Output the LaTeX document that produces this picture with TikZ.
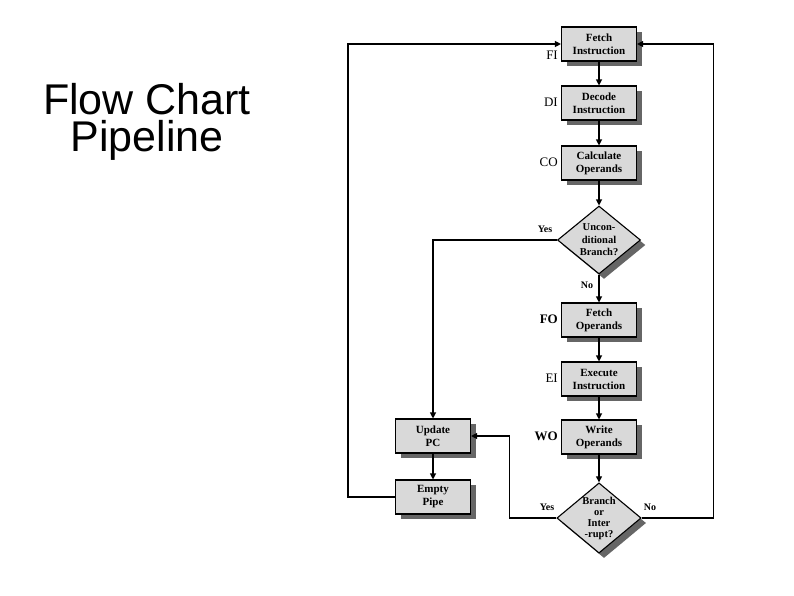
\documentclass[tikz,border=0pt]{standalone}
\usepackage{fontspec}
\setmainfont{Liberation Serif}
\newfontfamily\titlefont{Liberation Sans}
\usetikzlibrary{shapes.geometric,shadows,arrows.meta}

\begin{document}
\begin{tikzpicture}[x=1pt, y=-1pt,
    box/.style={draw, line width=1.1pt, fill=black!15, minimum width=75pt, minimum height=34pt,
        inner sep=1pt, align=center, font=\fontsize{11}{13}\selectfont\bfseries,
        drop shadow={shadow xshift=5pt, shadow yshift=-5pt, fill=black!60, opacity=1}},
    dec/.style={draw, line width=1.1pt, fill=black!15, diamond, aspect=1.2, inner sep=0pt,
        minimum width=83pt, minimum height=68pt, align=center,
        drop shadow={shadow xshift=5pt, shadow yshift=-5pt, fill=black!60, opacity=1}},
    lbl/.style={anchor=east, inner sep=0pt, font=\fontsize{13}{13}\selectfont},
    yn/.style={inner sep=0pt, font=\fontsize{10}{10}\selectfont\bfseries},
    ttl/.style={anchor=base, inner sep=0pt, font=\titlefont\fontsize{43}{43}\selectfont},
    line/.style={line width=1.1pt, -{Triangle[length=6pt, width=6pt]}}]
    \useasboundingbox (0, 0) rectangle (794, 595);

    \node[ttl, text depth=0pt, text height=31pt] (title1) at (147, 114) {Flow Chart};
    \node[ttl, text height=31pt] (title2) at (147, 151) {Pipeline};

    % main column
    \node[box] (fi) at (599, 44) {Fetch\\Instruction};
    \node[box] (di) at (599, 103) {Decode\\Instruction};
    \node[box] (co) at (599, 163) {Calculate\\Operands};
    \node[dec, font=\fontsize{10.5}{12.5}\selectfont\bfseries] (ub) at (599, 240) {Uncon-\\ditional\\Branch?};
    \node[box] (fo) at (599, 320) {Fetch\\Operands};
    \node[box] (ei) at (599, 379) {Execute\\Instruction};
    \node[box] (wo) at (599, 437) {Write\\Operands};
    \node[dec, font=\fontsize{10.5}{11}\selectfont\bfseries] (bi) at (599, 518) {Branch\\or\\Inter\\-rupt?};

    % left column
    \node[box] (pc) at (433, 436) {Update\\PC};
    \node[box] (ep) at (433, 497) {Empty\\Pipe};

    % stage names
    \node[lbl] (lfi) at (558, 55) {FI};
    \node[lbl] (ldi) at (558, 102) {DI};
    \node[lbl] (lco) at (558, 162) {CO};
    \node[lbl, font=\fontsize{13}{13}\selectfont\bfseries] (lfo) at (558, 319) {FO};
    \node[lbl] (lei) at (558, 378) {EI};
    \node[lbl, font=\fontsize{13}{13}\selectfont\bfseries] (lwo) at (558, 436) {WO};

    \foreach \a/\b in {fi/di, di/co, co/ub, ub/fo, fo/ei, ei/wo, wo/bi, pc/ep}{%
        \draw[line] (\a) -- (\b);
    }
    \draw[line] (ub.west) -| (pc.north);
    \draw[line] (ep.west) -- ++(-47, 0) |- (fi.west);
    \draw[line] (bi.west) -- ++(-47, 0) |- (pc.east);
    \draw[line] (bi.east) -- ++(72, 0) |- (fi.east);

    \node[yn] (y1) at (545, 229) {Yes};
    \node[yn] (n1) at (587, 285) {No};
    \node[yn] (y2) at (547, 507) {Yes};
    \node[yn] (n2) at (650, 507) {No};
\end{tikzpicture}
\end{document}
